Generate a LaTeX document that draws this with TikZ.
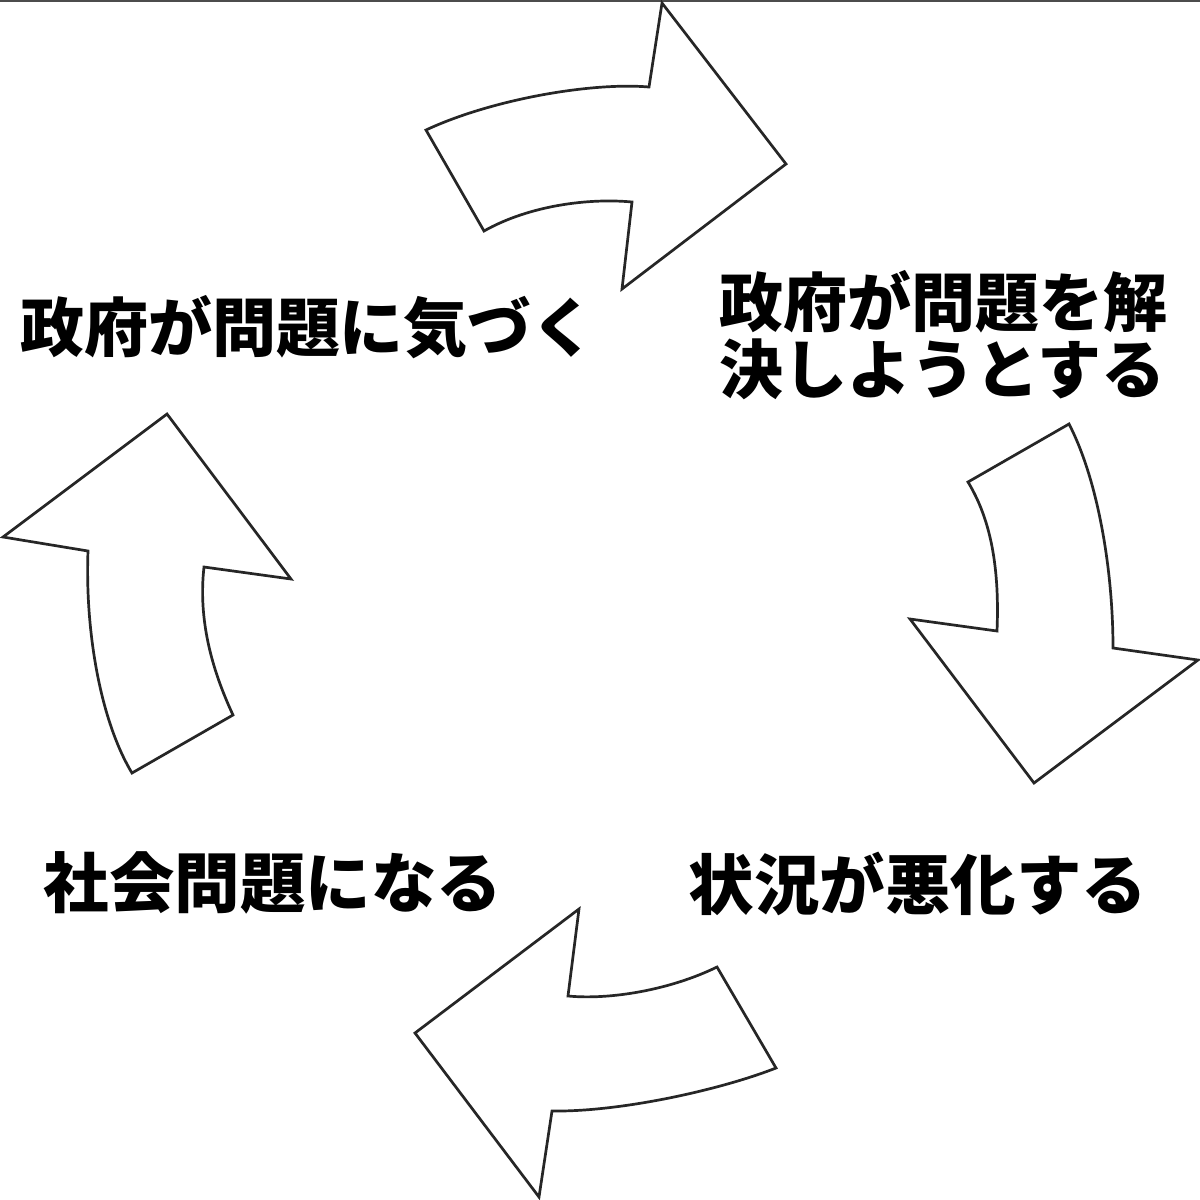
\documentclass[tikz,border=0pt]{standalone}
\usepackage{fontspec}
\newfontfamily\jp{Noto Sans CJK JP}
\tikzset{
  arrowshape/.style={draw=black!85, line width=2.7pt, line join=miter, fill=white},
  label/.style={inner sep=0pt, font=\jp\bfseries\fontsize{64pt}{67pt}\selectfont, text=black},
  biglabel/.style={label, font=\jp\bfseries\fontsize{65.5pt}{68pt}\selectfont},
}
\begin{document}
\begin{tikzpicture}[x=1pt,y=-1pt]
\useasboundingbox (0,0) rectangle (1200,1200);
\fill[white] (0,0) rectangle (1200,1200);
% top border line
\draw[line width=1.8pt, black!70] (0,0.9) -- (1200,0.9);

% top arrow (pointing right)
\draw[arrowshape] (426,130) .. controls (490,100) and (590,82) .. (649,87)
  -- (662,3) -- (786,164) -- (622,289) -- (632,202)
  .. controls (590,198) and (530,205) .. (484,231) -- cycle;

% right arrow (pointing down)
\draw[arrowshape] (1069,424) -- (968,482)
  .. controls (988,515) and (1000,560) .. (997,631)
  -- (910,619) -- (1034,783) -- (1198,660) -- (1113,648)
  .. controls (1113,570) and (1098,480) .. (1069,424) -- cycle;

% bottom arrow (pointing left)
\draw[arrowshape] (717,967) -- (776,1068)
  .. controls (720,1090) and (620,1112) .. (552,1111)
  -- (539,1197) -- (415,1033) -- (579,909) -- (568,996)
  .. controls (610,1000) and (670,990) .. (717,967) -- cycle;

% left arrow (pointing up)
\draw[arrowshape] (167,414) -- (291,579) -- (204,567)
  .. controls (198,620) and (212,670) .. (233,715)
  -- (132,773)
  .. controls (100,720) and (85,630) .. (88,551)
  -- (3,537) -- cycle;

% labels
\node[label, anchor=base] (t1) at (308,351) {政府が問題に気づく};
\node[label, anchor=base west] (t2a) at (719,326) {政府が問題を解};
\node[label, anchor=base west] (t2b) at (719,393) {決しようとする};
\node[biglabel, anchor=base] (t3) at (273,907) {社会問題になる};
\node[biglabel, anchor=base] (t4) at (918,909) {状況が悪化する};
\end{tikzpicture}
\end{document}
